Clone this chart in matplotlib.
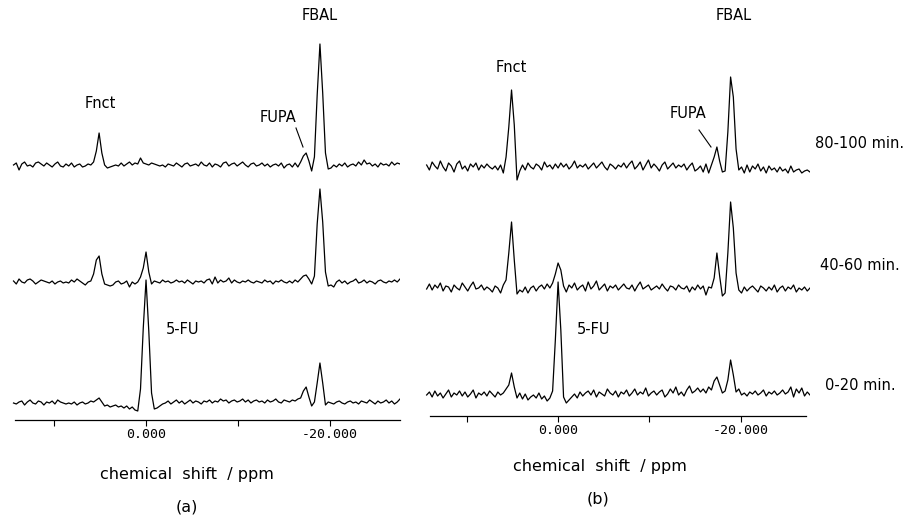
import numpy as np
import matplotlib
matplotlib.use("Agg")
import matplotlib.pyplot as plt
from matplotlib.lines import Line2D

# 19F NMR traces (intensity in arbitrary units ~ pixels)
# sampled every 0.3 ppm from +14.4 down to -27.6 ppm
start_ppm = 14.4
step_ppm = 0.3

a_80_100 = [0, 2, -5, 1, 3, -1, 0, -2, 2, 3,
            1, -1, 2, 0, -2, 1, 3, -1, -2, 1,
            -1, 2, -2, 0, 1, -2, -1, 1, 0, 3,
            14, 32, 12, 0, -3, -2, -1, 0, -1, 2,
            -1, 1, 3, 0, 2, 1, 7, 2, 1, 0,
            2, 1, 0, -1, 0, -2, 1, 0, -1, 2,
            0, -2, 1, 2, -1, 0, 1, -1, 3, 0,
            -1, 2, -2, 1, 0, -2, 2, 3, -1, 1,
            2, -1, 1, 3, 0, -2, 1, 2, -1, 0,
            2, -1, 1, -2, 0, 1, -1, 2, -3, 0,
            1, -2, 2, -2, 3, 9, 12, 4, -6, 8,
            70, 121, 72, 12, -4, -3, 0, -2, 1, -1,
            2, -2, 0, 1, -1, 3, 0, 5, 1, 2,
            -1, 1, -2, 2, 0, 1, -1, 3, 0, 2, 1]
a_40_60 = [1, -2, 3, 0, -1, 2, 3, 1, -2, 0,
           2, 1, 0, -1, 1, -2, 0, 1, -1, 0,
           -1, 2, 0, 3, 1, -1, -3, 0, 1, 8,
           22, 26, 8, -2, -3, -4, -3, 0, 1, -2,
           -1, 1, -5, 0, -2, 0, 5, 14, 30, 10,
           -2, 1, 0, -1, 2, 0, 1, -1, 0, 2,
           0, 1, -1, 2, 0, -2, 1, 0, 1, -1,
           2, 3, -2, 5, -1, 2, 0, 1, 4, -1,
           2, 0, -1, 1, 0, 2, 0, -1, 1, 0,
           -1, 2, 0, 1, -2, 1, 0, 2, 0, -1,
           1, -1, 2, 0, 3, 6, 7, 3, -2, 6,
           58, 93, 60, 10, -4, -3, -5, 0, 2, -1,
           1, -2, 0, 1, 3, -1, 0, 2, -1, 1,
           0, -2, 1, 2, 0, -1, 1, 0, 2, 0, 3]
a_0_20 = [0, -1, 1, 2, -2, 1, 3, 0, -1, 2,
          1, -2, 1, 0, 2, -1, 3, 1, 0, -1,
          0, -1, 1, -2, 0, 1, -1, 0, 2, 1,
          3, 5, 1, -3, -2, -4, -3, -2, -4, -3,
          -5, -3, -6, -4, -7, -8, 14, 75, 123, 72,
          10, -6, -5, -3, -1, 0, 2, -1, 1, 3,
          0, 2, -1, 1, 3, 0, 2, 1, -1, 2,
          1, 3, 0, 2, 1, 4, 2, 3, 0, 2,
          3, 1, 2, 4, 1, 3, 0, 2, 3, 1,
          2, 0, 3, 1, 2, 4, 1, 0, 3, 2,
          1, 3, 2, 4, 5, 12, 16, 6, -3, 1,
          20, 40, 20, -2, 1, 0, -1, 1, 2, 0,
          -1, 1, 2, 0, 1, -1, 2, 1, 0, 3,
          1, -1, 2, 0, 1, 3, 0, 2, -1, 1, 4]

b_80_100 = [2, -3, 5, 1, -2, 6, 0, -4, 4, 1,
            -5, 3, 6, -2, 1, -4, 3, 0, 4, -3,
            2, -1, 3, 0, -2, 1, -3, 2, -6, 10,
            40, 77, 42, -13, -4, 2, -3, 4, 0, -2,
            3, 1, -3, 5, 0, 2, -2, 3, -1, 4,
            0, 3, -2, 1, 6, -1, 2, 0, 3, -2,
            1, 4, -1, 2, 5, 0, -3, 3, 1, -2,
            2, 0, 4, -1, 3, 6, -2, 1, 5, -3,
            2, 7, -1, 3, 0, -4, 2, 5, -2, 1,
            4, -1, 2, 0, 3, -3, 1, 4, -4, -2,
            1, -5, 3, -6, 2, 10, 20, 6, -5, -4,
            35, 90, 70, 18, -3, 0, -6, 2, -5, 1,
            -2, 3, -4, 0, -6, 1, -3, -1, -5, 0,
            -4, -2, -6, 1, -5, -3, -2, -6, -4, -3, -5]
b_40_60 = [-1, 4, -2, 3, 0, 5, -3, 2, 1, -4,
           3, 0, -2, 5, 1, -3, 2, 6, -1, 0,
           3, -2, 1, -1, -4, 2, 0, -5, 3, 8,
           35, 66, 28, -6, -2, -4, 1, -5, 0, 2,
           -3, 1, 3, -1, 4, 0, 5, 14, 25, 18,
           2, -4, 3, 0, 5, -2, 1, 3, -3, 6,
           -1, 2, 7, -2, 1, 4, -3, 2, 0, 3,
           -2, 1, 4, 0, -1, 3, -3, 2, 6, -1,
           1, 3, -2, 0, 2, -1, 4, 0, -3, 2,
           1, -2, 3, 0, -1, 2, -4, 1, -2, 3,
           -1, 2, -7, 1, 0, 10, 35, 12, -8, -5,
           35, 86, 60, 15, -2, -5, 1, -3, 0, 2,
           -1, -4, 2, 0, -3, 1, -2, 3, -4, 0,
           2, -3, 1, -1, 3, -4, 0, -2, 1, -3, 0]
b_0_20 = [0, 3, -2, 4, -1, 2, -3, 1, 5, -2,
          2, 0, 4, -1, 3, -2, 1, 5, -3, 2,
          0, 3, -1, 4, 1, -2, 3, 0, 2, 6,
          10, 22, 8, -3, 2, -4, 1, -5, -2, 0,
          -3, 2, -4, -1, -6, -3, 4, 55, 113, 65,
          -2, -8, -5, -2, 1, -3, 3, -1, 2, 4,
          0, 5, -2, 3, 1, -1, 6, 2, 0, 4,
          -2, 3, 1, 5, -1, 2, 6, 0, 3, 1,
          7, -1, 2, 4, 0, 3, 5, -2, 1, 6,
          2, 8, 0, 3, -1, 5, 9, 2, 4, 7,
          3, 6, 2, 8, 5, 14, 18, 10, 2, 4,
          15, 35, 20, 3, 6, 0, 2, -1, 3, 1,
          4, 0, 2, 5, -1, 3, 1, 4, 0, 2,
          5, 1, 3, 8, -2, 6, 2, 7, -1, 3, 0]

time_labels = ["80-100 min.", "40-60 min.", "0-20 min."]
tick_pos = [10, 0, -10, -20]
tick_text = ["", "0.000", "", "-20.000"]

W, H = 922, 520
fig = plt.figure(figsize=(W / 100, H / 100), dpi=100)
font = "DejaVu Sans"


def fx(x):
    return x / W


def fy(y):
    return 1 - y / H


def make_axes(x0, x1, ybot, ppm_left, ppm_right, spine_right):
    ax = fig.add_axes([fx(x0), fy(ybot), (x1 - x0) / W, ybot / H])
    ax.set_xlim(ppm_left, ppm_right)
    ax.set_ylim(0, ybot)
    for s in ["top", "left", "right"]:
        ax.spines[s].set_visible(False)
    ax.spines["bottom"].set_linewidth(0.9)
    ax.spines["bottom"].set_bounds(ppm_left - 0.8, spine_right)
    ax.set_yticks([])
    ax.set_xticks(tick_pos)
    ax.set_xticklabels(tick_text, family="DejaVu Sans Mono", fontsize=9.5)
    ax.tick_params(axis="x", direction="out", length=4, width=0.8, pad=2)
    ax.patch.set_alpha(0)
    return ax


def plot_traces(ax, traces, offsets):
    for tr, off in zip(traces, offsets):
        y = np.array(tr, dtype=float)
        ppm = start_ppm - step_ppm * np.arange(len(y))
        ax.plot(ppm, y + off, color="black", lw=0.9)


# panel (a)
axA = make_axes(8, 400, 420, 15.0, -27.6, -27.6)
plot_traces(axA, [a_80_100, a_40_60, a_0_20], [255, 138, 17])

# panel (b)
axB = make_axes(423, 810, 416, 14.8, -27.6, -27.2)
plot_traces(axB, [b_80_100, b_40_60, b_0_20], [249, 128, 21])

# labels
fs = 10.5
txt = [("FBAL", 320, 15), ("FBAL", 734, 15),
       ("Fnct", 100, 103), ("Fnct", 511, 67),
       ("FUPA", 278, 118), ("FUPA", 688, 114),
       ("5-FU", 183, 330), ("5-FU", 594, 330)]
for s, x, y in txt:
    fig.text(fx(x), fy(y), s, ha="center", va="center", fontsize=fs, family=font)

for (x0, y0, x1, y1) in [(296, 128, 303, 147), (699, 130, 711, 147)]:
    fig.add_artist(Line2D([fx(x0), fx(x1)], [fy(y0), fy(y1)], color="black",
                          lw=0.8, transform=fig.transFigure))

for s, y in zip(time_labels, [143, 265, 385]):
    fig.text(fx(860), fy(y), s, ha="center", va="center", fontsize=fs, family=font)

fig.text(fx(187), fy(475), "chemical  shift  / ppm", ha="center", va="center",
         fontsize=11.5, family=font)
fig.text(fx(600), fy(467), "chemical  shift  / ppm", ha="center", va="center",
         fontsize=11.5, family=font)
fig.text(fx(187), fy(507), "(a)", ha="center", va="center", fontsize=11.5, family=font)
fig.text(fx(598), fy(499), "(b)", ha="center", va="center", fontsize=11.5, family=font)

fig.savefig("out.png", dpi=100)
